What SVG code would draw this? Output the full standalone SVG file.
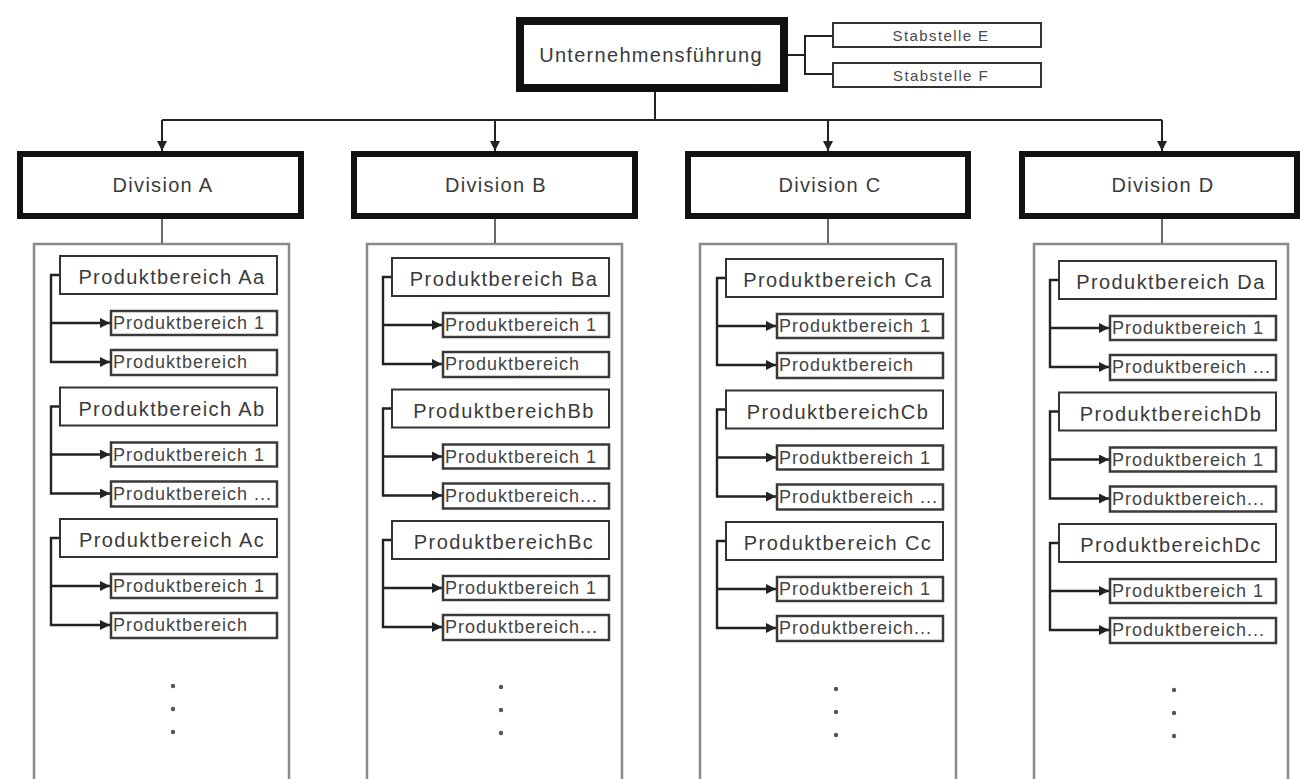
<svg xmlns="http://www.w3.org/2000/svg" width="1300" height="779" viewBox="0 0 1300 779">
  <style>
    text { font-family: "Liberation Sans", Arial, sans-serif; fill: #3a3a3a; }
    .top { fill: #fff; stroke: #111; stroke-width: 8; }
    .div { fill: #fff; stroke: #111; stroke-width: 6; }
    .cont { fill: #fff; stroke: #8a8a8a; stroke-width: 2.5; }
    .pb { fill: #fff; stroke: #333; stroke-width: 2; }
    .sub { fill: #fff; stroke: #3a3a3a; stroke-width: 2.5; }
    .stab { fill: #fff; stroke: #333; stroke-width: 2; }
    .ln { fill: none; stroke: #222; stroke-width: 2; }
    .thin { fill: none; stroke: #444; stroke-width: 1.6; }
    .arr { marker-end: url(#ahBig); }
    .sarr { fill: none; stroke: #222; stroke-width: 2.4; marker-end: url(#ahSmall); }
    .t-top { font-size: 20px; letter-spacing: 1.3px; text-anchor: middle; }
    .t-stab { font-size: 15px; letter-spacing: 1.4px; text-anchor: middle; fill: #4a4a4a; }
    .t-div { font-size: 20px; letter-spacing: 1.3px; text-anchor: middle; }
    .t-pb { font-size: 20px; letter-spacing: 1.4px; text-anchor: middle; }
    .t-sub { font-size: 18px; letter-spacing: 1px; fill: #444; }
    .dot { fill: #555; }
  </style>
  <defs>
    <marker id="ahBig" viewBox="0 0 10 10" refX="10" refY="5" markerWidth="12" markerHeight="10" markerUnits="userSpaceOnUse" orient="auto">
      <path d="M0,0 L10,5 L0,10 z" fill="#222"/>
    </marker>
    <marker id="ahSmall" viewBox="0 0 10 10" refX="10" refY="5" markerWidth="11" markerHeight="10" markerUnits="userSpaceOnUse" orient="auto">
      <path d="M0,0 L10,5 L0,10 z" fill="#222"/>
    </marker>
  </defs>

  <rect width="1300" height="779" fill="#fff"/>

  <!-- division containers -->
  <g id="container-a"><rect class="cont" x="34" y="244" width="255" height="560"/></g>
  <g id="container-b"><rect class="cont" x="367" y="244" width="255" height="560"/></g>
  <g id="container-c"><rect class="cont" x="700" y="244" width="256" height="560"/></g>
  <g id="container-d"><rect class="cont" x="1034" y="244" width="254" height="560"/></g>

  <!-- connectors -->
  <g id="connectors">
    <path class="ln" d="M655,92 V120 M162,120 H1162"/>
    <path class="ln arr" d="M162,120 V151"/>
    <path class="ln arr" d="M495,120 V151"/>
    <path class="ln arr" d="M828,120 V151"/>
    <path class="ln arr" d="M1162,120 V151"/>
    <path class="ln" d="M788,55 H805 M832,36 H805 V74 H832"/>
    <path class="thin" d="M162,219 V243 M495,219 V243 M828,219 V243 M1162,219 V243"/>

    <!-- Division A -->
    <path class="sarr" d="M59,275 H51 V362 H110"/><path class="sarr" d="M51,323 H110"/>
    <path class="sarr" d="M59,406.5 H51 V493.5 H110"/><path class="sarr" d="M51,454.5 H110"/>
    <path class="sarr" d="M59,538 H51 V625 H110"/><path class="sarr" d="M51,586 H110"/>
    <!-- Division B -->
    <path class="sarr" d="M391,277 H383 V364 H442"/><path class="sarr" d="M383,325 H442"/>
    <path class="sarr" d="M391,408.5 H383 V495.5 H442"/><path class="sarr" d="M383,456.5 H442"/>
    <path class="sarr" d="M391,540 H383 V627 H442"/><path class="sarr" d="M383,588 H442"/>
    <!-- Division C -->
    <path class="sarr" d="M725,278 H717 V365 H776"/><path class="sarr" d="M717,326 H776"/>
    <path class="sarr" d="M725,409.5 H717 V496.5 H776"/><path class="sarr" d="M717,457.5 H776"/>
    <path class="sarr" d="M725,541 H717 V628 H776"/><path class="sarr" d="M717,589 H776"/>
    <!-- Division D -->
    <path class="sarr" d="M1058,280 H1050 V367 H1109"/><path class="sarr" d="M1050,328 H1109"/>
    <path class="sarr" d="M1058,411.5 H1050 V498.5 H1109"/><path class="sarr" d="M1050,459.5 H1109"/>
    <path class="sarr" d="M1058,543 H1050 V630 H1109"/><path class="sarr" d="M1050,591 H1109"/>
  </g>

  <!-- top management and staff units -->
  <g id="unternehmensfuehrung">
    <rect class="top" x="520" y="21" width="264" height="67"/>
    <text class="t-top" x="651" y="62">Unternehmensführung</text>
  </g>
  <g id="stabstelle-e">
    <rect class="stab" x="833" y="23" width="208" height="24"/>
    <text class="t-stab" x="941" y="41">Stabstelle E</text>
  </g>
  <g id="stabstelle-f">
    <rect class="stab" x="833" y="63" width="208" height="24"/>
    <text class="t-stab" x="941" y="81">Stabstelle F</text>
  </g>

  <!-- divisions -->
  <g id="division-a"><rect class="div" x="20" y="154" width="281" height="62"/><text class="t-div" x="163" y="192">Division A</text></g>
  <g id="division-b"><rect class="div" x="354" y="154" width="281" height="62"/><text class="t-div" x="496" y="192">Division B</text></g>
  <g id="division-c"><rect class="div" x="688" y="154" width="280" height="62"/><text class="t-div" x="830" y="192">Division C</text></g>
  <g id="division-d"><rect class="div" x="1022" y="154" width="275" height="62"/><text class="t-div" x="1163" y="192">Division D</text></g>

  <!-- product areas, Division A -->
  <g id="pb-aa">
    <rect class="pb" x="60" y="256" width="217" height="38"/><text class="t-pb" x="172" y="284">Produktbereich Aa</text>
    <rect class="sub" x="111" y="311" width="166" height="24"/><text class="t-sub" x="113" y="329">Produktbereich 1</text>
    <rect class="sub" x="111" y="350" width="166" height="25"/><text class="t-sub" x="113" y="368">Produktbereich</text>
  </g>
  <g id="pb-ab">
    <rect class="pb" x="60" y="387.5" width="217" height="38"/><text class="t-pb" x="172" y="415.5">Produktbereich Ab</text>
    <rect class="sub" x="111" y="442.5" width="166" height="24"/><text class="t-sub" x="113" y="460.5">Produktbereich 1</text>
    <rect class="sub" x="111" y="481.5" width="166" height="25"/><text class="t-sub" x="113" y="499.5">Produktbereich ...</text>
  </g>
  <g id="pb-ac">
    <rect class="pb" x="60" y="519" width="217" height="38"/><text class="t-pb" x="172" y="547">Produktbereich Ac</text>
    <rect class="sub" x="111" y="574" width="166" height="24"/><text class="t-sub" x="113" y="592">Produktbereich 1</text>
    <rect class="sub" x="111" y="613" width="166" height="25"/><text class="t-sub" x="113" y="631">Produktbereich</text>
  </g>

  <!-- product areas, Division B -->
  <g id="pb-ba">
    <rect class="pb" x="392" y="258" width="217" height="38"/><text class="t-pb" x="504" y="286">Produktbereich Ba</text>
    <rect class="sub" x="443" y="313" width="166" height="24"/><text class="t-sub" x="445" y="331">Produktbereich 1</text>
    <rect class="sub" x="443" y="352" width="166" height="25"/><text class="t-sub" x="445" y="370">Produktbereich</text>
  </g>
  <g id="pb-bb">
    <rect class="pb" x="392" y="389.5" width="217" height="38"/><text class="t-pb" x="504" y="417.5">ProduktbereichBb</text>
    <rect class="sub" x="443" y="444.5" width="166" height="24"/><text class="t-sub" x="445" y="462.5">Produktbereich 1</text>
    <rect class="sub" x="443" y="483.5" width="166" height="25"/><text class="t-sub" x="445" y="501.5">Produktbereich...</text>
  </g>
  <g id="pb-bc">
    <rect class="pb" x="392" y="521" width="217" height="38"/><text class="t-pb" x="504" y="549">ProduktbereichBc</text>
    <rect class="sub" x="443" y="576" width="166" height="24"/><text class="t-sub" x="445" y="594">Produktbereich 1</text>
    <rect class="sub" x="443" y="615" width="166" height="25"/><text class="t-sub" x="445" y="633">Produktbereich...</text>
  </g>

  <!-- product areas, Division C -->
  <g id="pb-ca">
    <rect class="pb" x="726" y="259" width="217" height="38"/><text class="t-pb" x="838" y="287">Produktbereich Ca</text>
    <rect class="sub" x="777" y="314" width="166" height="24"/><text class="t-sub" x="779" y="332">Produktbereich 1</text>
    <rect class="sub" x="777" y="353" width="166" height="25"/><text class="t-sub" x="779" y="371">Produktbereich</text>
  </g>
  <g id="pb-cb">
    <rect class="pb" x="726" y="390.5" width="217" height="38"/><text class="t-pb" x="838" y="418.5">ProduktbereichCb</text>
    <rect class="sub" x="777" y="445.5" width="166" height="24"/><text class="t-sub" x="779" y="463.5">Produktbereich 1</text>
    <rect class="sub" x="777" y="484.5" width="166" height="25"/><text class="t-sub" x="779" y="502.5">Produktbereich ...</text>
  </g>
  <g id="pb-cc">
    <rect class="pb" x="726" y="522" width="217" height="38"/><text class="t-pb" x="838" y="550">Produktbereich Cc</text>
    <rect class="sub" x="777" y="577" width="166" height="24"/><text class="t-sub" x="779" y="595">Produktbereich 1</text>
    <rect class="sub" x="777" y="616" width="166" height="25"/><text class="t-sub" x="779" y="634">Produktbereich...</text>
  </g>

  <!-- product areas, Division D -->
  <g id="pb-da">
    <rect class="pb" x="1059" y="261" width="217" height="38"/><text class="t-pb" x="1171" y="289">Produktbereich Da</text>
    <rect class="sub" x="1110" y="316" width="166" height="24"/><text class="t-sub" x="1112" y="334">Produktbereich 1</text>
    <rect class="sub" x="1110" y="355" width="166" height="25"/><text class="t-sub" x="1112" y="373">Produktbereich ...</text>
  </g>
  <g id="pb-db">
    <rect class="pb" x="1059" y="392.5" width="217" height="38"/><text class="t-pb" x="1171" y="420.5">ProduktbereichDb</text>
    <rect class="sub" x="1110" y="447.5" width="166" height="24"/><text class="t-sub" x="1112" y="465.5">Produktbereich 1</text>
    <rect class="sub" x="1110" y="486.5" width="166" height="25"/><text class="t-sub" x="1112" y="504.5">Produktbereich...</text>
  </g>
  <g id="pb-dc">
    <rect class="pb" x="1059" y="524" width="217" height="38"/><text class="t-pb" x="1171" y="552">ProduktbereichDc</text>
    <rect class="sub" x="1110" y="579" width="166" height="24"/><text class="t-sub" x="1112" y="597">Produktbereich 1</text>
    <rect class="sub" x="1110" y="618" width="166" height="25"/><text class="t-sub" x="1112" y="636">Produktbereich...</text>
  </g>

  <!-- continuation dots -->
  <g id="more-a"><circle class="dot" cx="173" cy="686" r="2.2"/><circle class="dot" cx="173" cy="709" r="2.2"/><circle class="dot" cx="173" cy="732" r="2.2"/></g>
  <g id="more-b"><circle class="dot" cx="501" cy="687" r="2.2"/><circle class="dot" cx="501" cy="710" r="2.2"/><circle class="dot" cx="501" cy="733" r="2.2"/></g>
  <g id="more-c"><circle class="dot" cx="836" cy="689" r="2.2"/><circle class="dot" cx="836" cy="712" r="2.2"/><circle class="dot" cx="836" cy="735" r="2.2"/></g>
  <g id="more-d"><circle class="dot" cx="1174" cy="690" r="2.2"/><circle class="dot" cx="1174" cy="713" r="2.2"/><circle class="dot" cx="1174" cy="736" r="2.2"/></g>
</svg>
